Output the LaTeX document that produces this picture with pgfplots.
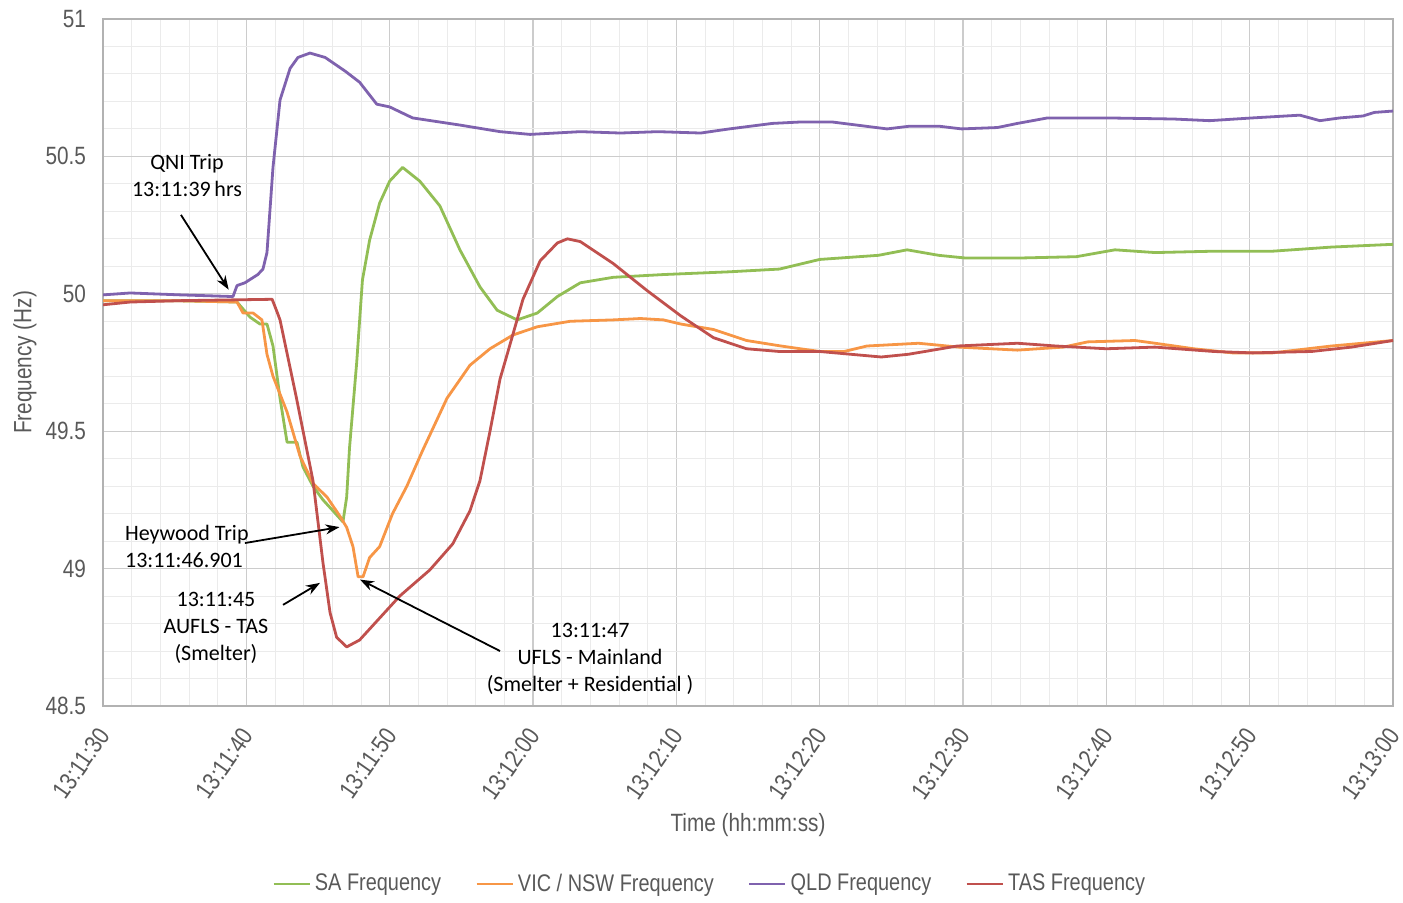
\documentclass[border=0pt]{standalone}
\usepackage{pgfplots}
\pgfplotsset{compat=1.18}
\usepackage{fontspec}
\setmainfont{Carlito}
\newfontfamily\narrowfont[FakeStretch=0.83]{Liberation Sans}
\usetikzlibrary{arrows.meta}
\definecolor{sagreen}{HTML}{92BE55}
\definecolor{vicorange}{HTML}{F79646}
\definecolor{qldpurple}{HTML}{7F62AE}
\definecolor{tasred}{HTML}{C0504D}
\definecolor{ticktext}{HTML}{595959}
\begin{document}
\begin{tikzpicture}
\begin{axis}[
  scale only axis,
  width=645pt, height=343.5pt,
  xmin=0, xmax=90, ymin=48.5, ymax=51,
  xtick={0,10,...,90},
  xticklabels={13:11:30,13:11:40,13:11:50,13:12:00,13:12:10,13:12:20,13:12:30,13:12:40,13:12:50,13:13:00},
  ytick={48.5,49,49.5,50,50.5,51},
  minor x tick num=4, minor y tick num=4,
  grid=both,
  major grid style={draw=black!20, line width=0.6pt},
  minor grid style={draw=black!8, line width=0.5pt},
  major tick length=0pt, minor tick length=0pt,
  axis line style={draw=black!30, line width=0.6pt},
  /pgf/number format/assume math mode=true,
  tick label style={font=\narrowfont\fontsize{12.5}{14}\selectfont, text=ticktext},
  xticklabel style={xshift=2.5pt, yshift=-9.5pt, rotate=55, anchor=east},
  yticklabel style={xshift=-5pt},
  xlabel={Time (hh:mm:ss)}, ylabel={Frequency (Hz)},
  every axis x label/.style={at={(axis description cs:0.5,-0.173)}, anchor=center,
    font=\narrowfont\fontsize{12.5}{14}\selectfont, text=ticktext},
  every axis y label/.style={at={(axis description cs:-0.0605,0.5)}, rotate=90, anchor=center,
    font=\narrowfont\fontsize{12.5}{14}\selectfont, text=ticktext},
  legend columns=4,
  legend style={at={(axis description cs:0.471,-0.259)}, anchor=center, draw=none, fill=none,
    font=\narrowfont\fontsize{12}{14}\selectfont, text=ticktext,
    /tikz/every even column/.append style={column sep=15pt}},
  legend image code/.code={\draw[#1, line width=1.4pt] (0pt,0pt) -- (18pt,0pt);},
  every axis plot/.append style={line width=1.4pt, line join=round},
]
\coordinate (bl) at (rel axis cs:0,0);
\coordinate (tr) at (rel axis cs:1,1);

% SA
\addplot[sagreen] coordinates {
(0,49.975)(5,49.975)(9.35,49.97)(10.26,49.915)(10.95,49.89)(11.44,49.89)(11.86,49.81)(12.35,49.62)
(12.84,49.46)(13.53,49.46)(13.95,49.37)(14.65,49.30)(15.35,49.25)(16.05,49.21)(16.74,49.17)
(17.0,49.26)(17.2,49.44)(17.7,49.75)(18.1,50.05)(18.6,50.195)(19.3,50.33)(20.0,50.41)(20.9,50.46)
(22.1,50.41)(23.5,50.32)(24.9,50.16)(26.3,50.025)(27.5,49.94)(28.9,49.905)(30.3,49.93)(31.7,49.99)
(33.3,50.04)(35.6,50.06)(39.1,50.07)(43.7,50.08)(47.2,50.09)(50.0,50.125)(54.1,50.14)(56.1,50.16)
(58.3,50.14)(60.2,50.13)(63.8,50.13)(67.9,50.135)(70.6,50.16)(73.4,50.15)(77.5,50.155)(81.6,50.155)
(85.7,50.17)(90,50.18)
};
\addlegendentry{SA Frequency}

% VIC / NSW
\addplot[vicorange] coordinates {
(0,49.975)(5,49.975)(9.35,49.97)(9.77,49.93)(10.47,49.93)(11.09,49.905)(11.44,49.78)(11.86,49.70)
(12.84,49.57)(13.74,49.41)(14.65,49.31)(15.63,49.26)(16.54,49.19)(17.0,49.15)(17.44,49.08)(17.8,48.97)
(18.14,48.97)(18.6,49.04)(19.3,49.08)(20.2,49.20)(21.2,49.30)(22.3,49.43)(24.0,49.62)(25.6,49.74)
(27.0,49.80)(28.6,49.85)(30.3,49.88)(32.6,49.90)(35.6,49.905)(37.5,49.91)(39.1,49.905)(40.3,49.89)
(42.6,49.87)(44.9,49.83)(47.3,49.81)(50.0,49.79)(51.7,49.79)(53.3,49.81)(56.9,49.82)(59.7,49.806)
(63.8,49.795)(67.0,49.806)(68.7,49.825)(72.0,49.83)(73.4,49.82)(76.1,49.80)(78.8,49.785)(81.6,49.785)
(85.7,49.81)(90,49.83)
};
\addlegendentry{VIC / NSW Frequency}

% QLD
\addplot[qldpurple] coordinates {
(0,49.996)(1.9,50.003)(5.4,49.996)(9.07,49.99)(9.35,50.03)(9.9,50.04)(10.8,50.07)(11.16,50.09)
(11.44,50.15)(11.86,50.46)(12.35,50.705)(13.05,50.82)(13.6,50.86)(14.44,50.876)(15.5,50.86)
(16.9,50.81)(17.9,50.77)(19.1,50.69)(20.0,50.68)(21.6,50.64)(24.9,50.614)(27.7,50.59)(29.8,50.58)
(33.3,50.59)(36.1,50.585)(38.7,50.59)(41.7,50.585)(43.7,50.60)(46.7,50.62)(48.6,50.625)(50.9,50.625)
(54.7,50.60)(56.3,50.61)(58.3,50.61)(59.9,50.60)(62.4,50.605)(63.8,50.62)(65.9,50.64)(70.0,50.64)
(74.7,50.636)(77.2,50.63)(80.2,50.64)(83.5,50.65)(84.9,50.63)(86.3,50.64)(87.9,50.647)(88.7,50.66)
(90,50.665)
};
\addlegendentry{QLD Frequency}

% TAS
\addplot[tasred] coordinates {
(0,49.96)(1.9,49.97)(5.4,49.975)(11.8,49.98)(12.1,49.94)(12.35,49.905)(13.5,49.62)(14.65,49.32)
(15.35,49.02)(15.84,48.84)(16.3,48.75)(17.0,48.715)(17.9,48.74)(19.3,48.82)(20.7,48.90)(22.8,48.995)
(24.4,49.09)(25.6,49.21)(26.3,49.32)(27.0,49.50)(27.7,49.69)(28.2,49.78)(29.3,49.98)(30.5,50.12)
(31.7,50.185)(32.4,50.20)(33.3,50.19)(35.6,50.11)(38.0,50.01)(40.3,49.92)(42.6,49.84)(44.9,49.80)
(47.2,49.79)(50.0,49.79)(54.3,49.77)(56.2,49.78)(59.6,49.81)(63.8,49.82)(66.5,49.81)(70.0,49.80)
(73.4,49.806)(77.5,49.79)(80.2,49.785)(84.3,49.79)(87.1,49.806)(90,49.83)
};
\addlegendentry{TAS Frequency}

% annotations
\begin{scope}[every node/.style={font=\fontsize{11}{13.5}\selectfont, align=center, text=black}]
\node at (axis cs:5.86,50.432) {QNI Trip\\13:11:39\,hrs};
\node[anchor=west, align=left] at (axis cs:1.05,49.079) {Heywood Trip\\13:11:46.901};
\node at (axis cs:7.88,48.784) {13:11:45\\AUFLS - TAS\\(Smelter)};
\node at (axis cs:33.98,48.671) {13:11:47\\UFLS - Mainland\\(Smelter + Residential )};
\end{scope}
\begin{scope}[line width=0.9pt, -{Stealth[length=7pt,width=5pt]}]
\draw (axis cs:5.44,50.287) -- (axis cs:8.77,50.015);
\draw (axis cs:9.9,49.093) -- (axis cs:16.5,49.151);
\draw (axis cs:12.56,48.868) -- (axis cs:15.14,48.948);
\draw (axis cs:27.7,48.70) -- (axis cs:17.93,48.96);
\end{scope}
\end{axis}
\pgfresetboundingbox
\path[use as bounding box] ([shift={(-51.5pt,-98pt)}]bl) rectangle ([shift={(5pt,9.5pt)}]tr);
\end{tikzpicture}
\end{document}
